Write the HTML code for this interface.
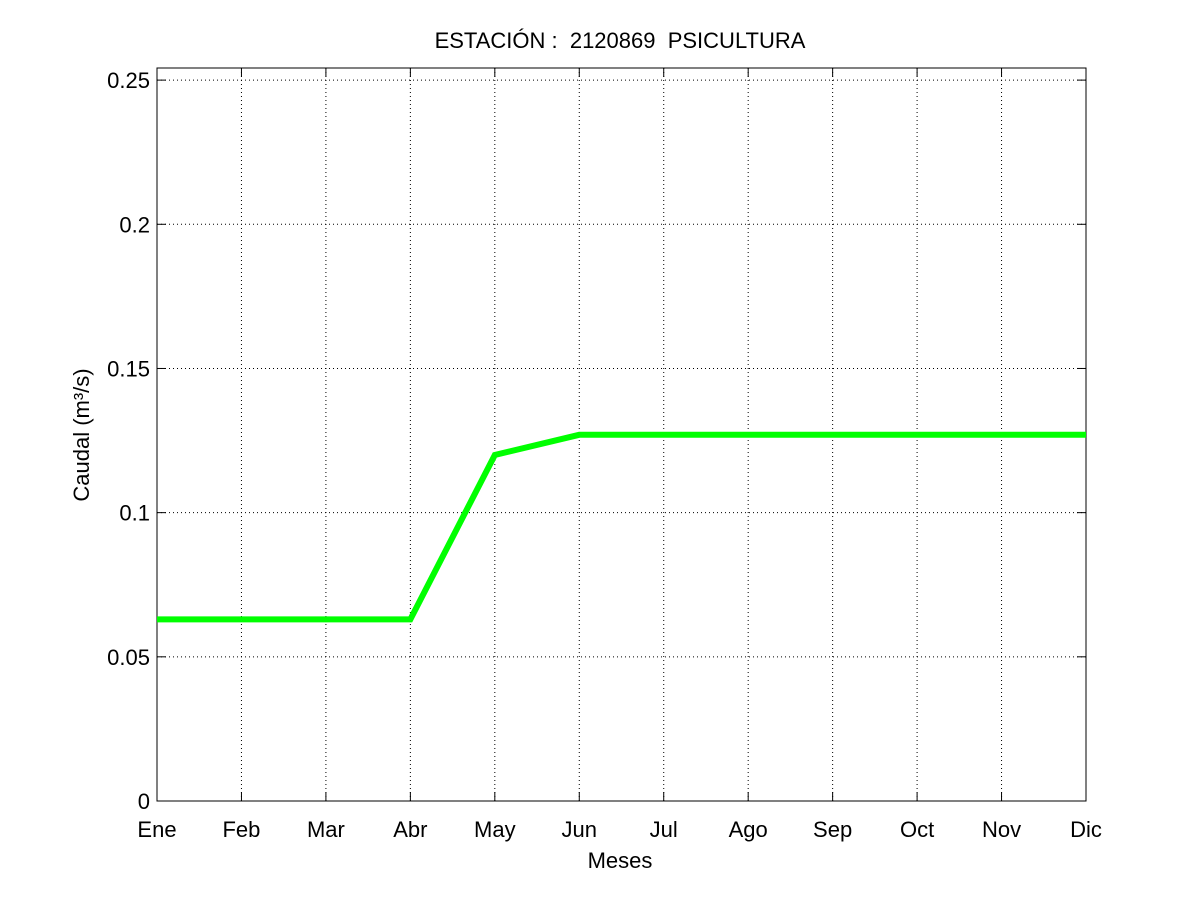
<!DOCTYPE html>
<html><head><meta charset="utf-8"><style>
body{margin:0;background:#fff;}
svg text{font-family:"Liberation Sans",sans-serif;fill:#000;}
</style></head><body>
<svg id="chart" width="1200" height="900" xmlns="http://www.w3.org/2000/svg">
<rect width="1200" height="900" fill="#fff"/>
<text x="620" y="48" font-size="22" text-anchor="middle">ESTACIÓN :&#160;&#160;2120869&#160;&#160;PSICULTURA</text>
<g id="grid"></g>
<g id="axes"></g>
<g id="series"></g>
<text x="620" y="868" font-size="22" text-anchor="middle">Meses</text>
<text transform="translate(89,435) rotate(-90)" font-size="22" text-anchor="middle">Caudal (m³/s)</text>
</svg>
<script>
const months=["Ene","Feb","Mar","Abr","May","Jun","Jul","Ago","Sep","Oct","Nov","Dic"];
const caudal=[0.063,0.063,0.063,0.063,0.120,0.127,0.127,0.127,0.127,0.127,0.127,0.127];
const yTicks=[0,0.05,0.1,0.15,0.2,0.25];
const yTickLabels=["0","0.05","0.1","0.15","0.2","0.25"];
const L=157,R=1086,T=68,B=801,YMAX=0.2542;
const xs=i=>L+(R-L)*i/(months.length-1);
const ys=v=>B-(B-T)*v/YMAX;
const NS="http://www.w3.org/2000/svg";
function mk(tag,attrs,parent){const e=document.createElementNS(NS,tag);for(const k in attrs)e.setAttribute(k,attrs[k]);document.getElementById(parent).appendChild(e);return e;}
months.forEach((m,i)=>{
  const x=xs(i);
  if(i>0&&i<months.length-1){const g=mk("line",{x1:x,x2:x,y1:T,y2:B,stroke:"#000","stroke-width":1,"stroke-dasharray":"1,3"},"grid");
  
  }
  mk("line",{x1:x,x2:x,y1:B,y2:B-9,stroke:"#000"},"axes");
  mk("line",{x1:x,x2:x,y1:T,y2:T+9,stroke:"#000"},"axes");
  const t=mk("text",{x:x,y:837,"font-size":22,"text-anchor":"middle"},"axes");
  t.textContent=m;
  
  
});
yTicks.forEach((v,i)=>{
  const y=ys(v);
  if(v>0){const g=mk("line",{x1:L,x2:R,y1:y,y2:y,stroke:"#000","stroke-width":1,"stroke-dasharray":"1,3"},"grid");
  
  }
  mk("line",{x1:L,x2:L+9,y1:y,y2:y,stroke:"#000"},"axes");
  mk("line",{x1:R,x2:R-9,y1:y,y2:y,stroke:"#000"},"axes");
  const t=mk("text",{x:150,y:y+8,"font-size":22,"text-anchor":"end"},"axes");
  t.textContent=yTickLabels[i];
  
  
});
const box=mk("rect",{x:L,y:T,width:R-L,height:B-T,fill:"none",stroke:"#000","stroke-width":1},"axes");


const line=mk("polyline",{points:caudal.map((v,i)=>xs(i)+","+ys(v)).join(" "),fill:"none",stroke:"#00ff00","stroke-width":6,"stroke-linejoin":"miter"},"series");


</script>
</body></html>
